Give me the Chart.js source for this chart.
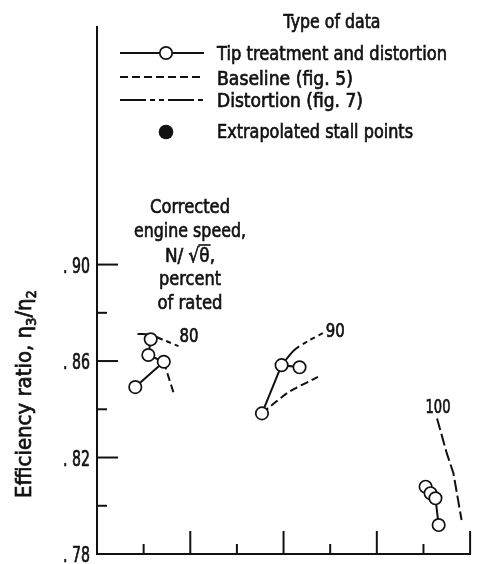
<!DOCTYPE html>
<html>
<head>
<meta charset="utf-8">
<script src="https://cdn.jsdelivr.net/npm/chart.js@4.4.1/dist/chart.umd.min.js"></script>
<style>
  html, body { margin: 0; padding: 0; background: #fff; }
  #wrap { width: 478px; height: 564px; }
</style>
</head>
<body>
<div id="wrap"><canvas id="c" width="478" height="564"></canvas></div>
<script>
const FONT = '"DejaVu Sans", "Liberation Sans", sans-serif';
const INK = '#111';

// Axis ranges and ticks
const xRange = [0, 8];
const yRange = [0.78, 0.9985];
const yMajorTicks = [0.78, 0.82, 0.86, 0.90];
const yMajorLabels = ['. 78', '. 82', '. 86', '. 90'];
const yMinorTicks = [0.80, 0.84, 0.88];
const xMajorTicks = [2, 4, 6, 8];
const xMinorTicks = [1, 3, 5, 7];

// Tip treatment and distortion (open symbols), [x, efficiency ratio]
const tip80  = [[1.152, 0.8690], [1.101, 0.8625], [1.432, 0.8597], [0.821, 0.8492]];
const tip90  = [[3.537, 0.8383], [3.958, 0.8583], [4.343, 0.8574]];
const tip100 = [[7.046, 0.8079], [7.152, 0.8052], [7.257, 0.8031], [7.326, 0.7920]];

// Baseline (fig. 5)
const base80  = [[1.432, 0.8597], [1.663, 0.8455]];
const base90  = [[3.537, 0.8384], [4.105, 0.8471], [4.737, 0.8534]];
const base100 = [[7.291, 0.8362], [7.501, 0.8217], [7.642, 0.8135], [7.817, 0.7941]];

// Distortion (fig. 7)
const dist80 = [[0.869, 0.8712], [1.116, 0.8710], [1.432, 0.8687], [1.747, 0.8662]];
const dist90 = [[3.958, 0.8583], [4.232, 0.8646], [4.526, 0.8683], [4.842, 0.8716]];

// Corrected speed, percent of rated
const speedLabels = ['80', '90', '100'];

const legendTitle = 'Type of data';
const legendItems = ['Tip treatment and distortion', 'Baseline (fig. 5)', 'Distortion (fig. 7)', 'Extrapolated stall points'];
const speedNote = ['Corrected', 'engine speed,', 'N/ \u221A\u03B8,', 'percent', 'of rated'];

const BASE_DASH = [8, 4];
const DIST_DASH = [26, 4, 5, 4, 5, 4];

const toPts = a => a.map(([x, y]) => ({ x, y }));

function tipSet(a) {
  return {
    data: toPts(a), showLine: true, borderColor: INK, borderWidth: 2, tension: 0,
    pointRadius: 6.2, pointBorderWidth: 1.7, pointBackgroundColor: '#fff', pointBorderColor: INK
  };
}
function curveSet(a, dash, tension) {
  return {
    data: toPts(a), showLine: true, borderColor: INK, borderWidth: 2,
    borderDash: dash, pointRadius: 0, tension: tension
  };
}

// Condensed lettering: text squeezed to a given width, with a light outline for weight
function drawFit(ctx, text, x, y, size, width, align) {
  ctx.save();
  ctx.font = size + 'px ' + FONT;
  const w = ctx.measureText(text).width;
  const sx = width ? width / w : 1;
  const dw = w * sx;
  const left = align === 'center' ? x - dw / 2 : align === 'right' ? x - dw : x;
  ctx.translate(left, y);
  ctx.scale(sx, 1);
  ctx.textAlign = 'left';
  ctx.textBaseline = 'alphabetic';
  ctx.fillStyle = INK;
  ctx.strokeStyle = INK;
  ctx.lineWidth = 0.7;
  ctx.setLineDash([]);
  ctx.fillText(text, 0, 0);
  ctx.strokeText(text, 0, 0);
  ctx.restore();
  return { left, sx };
}

function seg(ctx, x1, y1, x2, y2) {
  ctx.beginPath(); ctx.moveTo(x1, y1); ctx.lineTo(x2, y2); ctx.stroke();
}

const annotations = {
  id: 'annotations',
  afterDraw(chart) {
    const ctx = chart.ctx;
    const ca = chart.chartArea;
    const xs = chart.scales.x, ys = chart.scales.y;
    ctx.save();
    ctx.strokeStyle = INK;
    ctx.lineWidth = 2;
    ctx.setLineDash([]);

    // inward tick marks
    yMajorTicks.forEach(v => { const p = ys.getPixelForValue(v); seg(ctx, ca.left, p, ca.left + 21, p); });
    yMinorTicks.forEach(v => { const p = ys.getPixelForValue(v); seg(ctx, ca.left, p, ca.left + 10, p); });
    xMajorTicks.forEach(v => { const p = xs.getPixelForValue(v); seg(ctx, p, ca.bottom, p, ca.bottom - 23); });
    xMinorTicks.forEach(v => { const p = xs.getPixelForValue(v); seg(ctx, p, ca.bottom, p, ca.bottom - 10); });

    // y tick labels
    yMajorTicks.forEach((v, i) => {
      const p = ys.getPixelForValue(v);
      drawFit(ctx, yMajorLabels[i], ca.left - 7, p + 8, 21, 27, 'right');
    });

    // y axis title with subscripts
    ctx.save();
    ctx.translate(31, 394);
    ctx.rotate(-Math.PI / 2);
    const parts = [
      { t: 'Efficiency ratio, \u03B7', s: 21, dy: 0 },
      { t: '3', s: 14, dy: 5 },
      { t: '/\u03B7', s: 21, dy: 0 },
      { t: '2', s: 14, dy: 5 }
    ];
    let total = 0;
    parts.forEach(p => { ctx.font = p.s + 'px ' + FONT; p.w = ctx.measureText(p.t).width; total += p.w; });
    const tsx = 208 / total;
    ctx.scale(tsx, 1);
    ctx.fillStyle = INK;
    ctx.strokeStyle = INK;
    ctx.lineWidth = 0.7;
    ctx.textBaseline = 'alphabetic';
    let cx = -total / 2;
    parts.forEach(p => {
      ctx.font = p.s + 'px ' + FONT;
      ctx.fillText(p.t, cx, p.dy);
      ctx.strokeText(p.t, cx, p.dy);
      cx += p.w;
    });
    ctx.restore();

    // legend
    drawFit(ctx, legendTitle, 332, 28, 19, 97, 'center');
    const lx1 = 120, lx2 = 204, tx = 217;
    ctx.lineWidth = 2;
    seg(ctx, lx1, 53, lx2, 53);
    ctx.beginPath(); ctx.arc(166, 53, 6.2, 0, Math.PI * 2);
    ctx.fillStyle = '#fff'; ctx.fill(); ctx.lineWidth = 1.7; ctx.stroke();
    ctx.lineWidth = 2;
    ctx.setLineDash(BASE_DASH); seg(ctx, lx1, 77, lx2, 77);
    ctx.setLineDash(DIST_DASH); seg(ctx, lx1, 100, lx2, 100);
    ctx.setLineDash([]);
    ctx.beginPath(); ctx.arc(166, 132, 7.3, 0, Math.PI * 2); ctx.fillStyle = INK; ctx.fill();
    drawFit(ctx, legendItems[0], tx, 60, 19, 230, 'left');
    drawFit(ctx, legendItems[1], tx, 85, 19, 136, 'left');
    drawFit(ctx, legendItems[2], tx, 107, 19, 146, 'left');
    drawFit(ctx, legendItems[3], tx, 138, 19, 196, 'left');

    // speed note
    const noteY = [213, 237, 262, 285, 309];
    const noteW = [80, 112, 50, 62, 65];
    speedNote.forEach((t, i) => {
      const r = drawFit(ctx, t, 190, noteY[i], 20, noteW[i], 'center');
      if (i === 2) {
        ctx.save();
        ctx.font = '20px ' + FONT;
        const pre = ctx.measureText('N/ \u221A').width * r.sx;
        const th = ctx.measureText('\u03B8').width * r.sx;
        ctx.lineWidth = 1.6;
        seg(ctx, r.left + pre - 1, noteY[i] - 17, r.left + pre + th + 1, noteY[i] - 17);
        ctx.restore();
      }
    });

    // speed labels at the curve ends
    const e80 = dist80[dist80.length - 1], e90 = dist90[dist90.length - 1], s100 = base100[0];
    drawFit(ctx, speedLabels[0], xs.getPixelForValue(e80[0]) + 1, ys.getPixelForValue(e80[1]) - 4, 19, 19, 'left');
    drawFit(ctx, speedLabels[1], xs.getPixelForValue(e90[0]) + 3, ys.getPixelForValue(e90[1]) + 4, 19, 19, 'left');
    drawFit(ctx, speedLabels[2], xs.getPixelForValue(s100[0]) + 1, ys.getPixelForValue(s100[1]) - 5, 19, 25, 'center');

    ctx.restore();
  }
};

new Chart(document.getElementById('c').getContext('2d'), {
  type: 'scatter',
  data: {
    datasets: [
      tipSet(tip80), tipSet(tip90), tipSet(tip100),
      curveSet(dist80, DIST_DASH, 0.3), curveSet(dist90, DIST_DASH, 0.3),
      curveSet(base80, BASE_DASH, 0), curveSet(base90, BASE_DASH, 0.2), curveSet(base100, [12, 4], 0)
    ]
  },
  options: {
    responsive: false,
    animation: false,
    devicePixelRatio: 1,
    layout: { padding: { top: 27, right: 1, left: 0, bottom: 0 } },
    plugins: { legend: { display: false }, tooltip: { enabled: false } },
    scales: {
      x: {
        type: 'linear', min: xRange[0], max: xRange[1],
        grid: { display: false, drawTicks: false },
        border: { display: true, color: INK, width: 2 },
        ticks: { display: false },
        afterFit(s) { s.height = 10; }
      },
      y: {
        type: 'linear', min: yRange[0], max: yRange[1],
        grid: { display: false, drawTicks: false },
        border: { display: true, color: INK, width: 2 },
        ticks: { display: false },
        afterFit(s) { s.width = 97; }
      }
    }
  },
  plugins: [annotations]
});
</script>
</body>
</html>
